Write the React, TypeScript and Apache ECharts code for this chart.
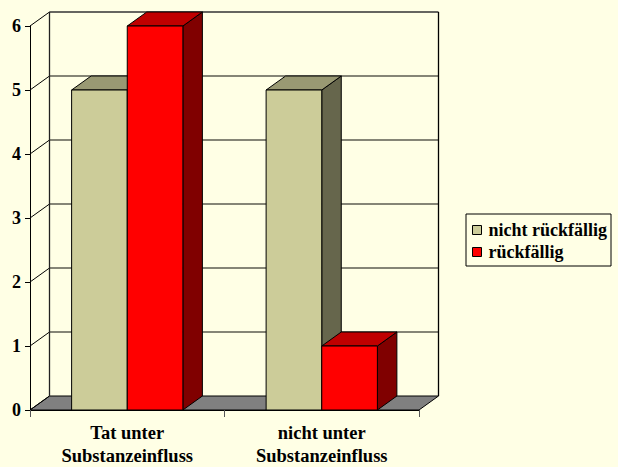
import React, { useEffect, useRef } from "react";
import * as echarts from "echarts";

const CATEGORIES = ["Tat unter\nSubstanzeinfluss", "nicht unter\nSubstanzeinfluss"];
const SERIES_NAMES = ["nicht rückfällig", "rückfällig"];
const NICHT_RUECKFAELLIG = [5, 5];
const RUECKFAELLIG = [6, 1];
const Y_TICKS = [0, 1, 2, 3, 4, 5, 6];

const FRONT = ["#CCCC99", "#FF0000"];
const TOP = ["#999973", "#C00000"];
const SIDE = ["#66664C", "#800000"];

const DX = 19.5;
const DY = -14;
const BAR_FRAC = 0.286;
const FONT = "'Liberation Serif', 'Times New Roman', serif";
const BG = "#FFFFE5";

export default function App() {
  const ref = useRef<HTMLDivElement>(null);
  useEffect(() => {
    if (!ref.current) return;
    const chart = echarts.init(ref.current, null, { renderer: "svg" });

    const wallRender = (params: any, api: any) => {
      const c0 = api.coord([0, 0]);
      const w = api.size([1, 0])[0];
      const x0 = c0[0] - w / 2;
      const x1 = x0 + w * CATEGORIES.length;
      const yBase = c0[1];
      const yTop = api.coord([0, Y_TICKS[Y_TICKS.length - 1]])[1];
      const children: any[] = [];
      children.push({
        type: "polygon",
        shape: { points: [[x0, yBase], [x1, yBase], [x1 + DX, yBase + DY], [x0 + DX, yBase + DY]] },
        style: { fill: "#808080", stroke: "#000", lineWidth: 1 },
      });
      Y_TICKS.forEach((t) => {
        const y = api.coord([0, t])[1];
        if (t > 0) {
          children.push({
            type: "line",
            shape: { x1: x0 + DX, y1: y + DY, x2: x1 + DX, y2: y + DY },
            style: { stroke: t === Y_TICKS[Y_TICKS.length - 1] ? "#333" : "#5c5c50", lineWidth: 1.5 },
          });
        }
        children.push({
          type: "line",
          shape: { x1: x0, y1: y, x2: x0 + DX, y2: y + DY },
          style: { stroke: "#000", lineWidth: 1 },
        });
      });
      children.push({
        type: "line",
        shape: { x1: x0 + DX, y1: yTop + DY, x2: x0 + DX, y2: yBase + DY },
        style: { stroke: "#222", lineWidth: 1.3 },
      });
      children.push({
        type: "line",
        shape: { x1: x1 + DX, y1: yTop + DY, x2: x1 + DX, y2: yBase + DY },
        style: { stroke: "#000", lineWidth: 1.3 },
      });
      return { type: "group", children };
    };

    const makeBarRender = (sIdx: number) => (params: any, api: any) => {
      const cat = api.value(0);
      const val = api.value(1);
      const top = api.coord([cat, val]);
      const base = api.coord([cat, 0]);
      const w = api.size([1, 0])[0];
      const bw = w * BAR_FRAC;
      const n = SERIES_NAMES.length;
      const x = top[0] - (bw * n) / 2 + sIdx * bw;
      const yt = top[1];
      const yb = base[1];
      const stroke = { stroke: "#000", lineWidth: 1 };
      return {
        type: "group",
        children: [
          {
            type: "polygon",
            shape: { points: [[x + bw, yt], [x + bw + DX, yt + DY], [x + bw + DX, yb + DY], [x + bw, yb]] },
            style: { fill: SIDE[sIdx], ...stroke },
          },
          {
            type: "polygon",
            shape: { points: [[x, yt], [x + bw, yt], [x + bw + DX, yt + DY], [x + DX, yt + DY]] },
            style: { fill: TOP[sIdx], ...stroke },
          },
          {
            type: "rect",
            shape: { x, y: yt, width: bw, height: yb - yt },
            style: { fill: FRONT[sIdx], ...stroke },
          },
        ],
      };
    };

    const seriesValues = [NICHT_RUECKFAELLIG, RUECKFAELLIG];

    chart.setOption({
      animation: false,
      backgroundColor: BG,
      grid: { left: 30, top: 26, width: 389, height: 385 },
      legend: {
        orient: "vertical",
        left: 466,
        top: 214,
        data: SERIES_NAMES,
        icon: "rect",
        itemWidth: 9,
        itemHeight: 9,
        itemGap: 4,
        padding: [7, 4, 5, 6],
        backgroundColor: BG,
        borderColor: "#000",
        borderWidth: 1,
        borderRadius: 0,
        itemStyle: { borderColor: "#000", borderWidth: 1 },
        textStyle: { fontFamily: FONT, fontWeight: "bold", fontSize: 18, color: "#000", padding: [0, 0, 0, 2] },
      },
      xAxis: {
        type: "category",
        data: CATEGORIES,
        boundaryGap: true,
        axisLine: { show: true, lineStyle: { color: "#000", width: 1 } },
        axisTick: { show: true, length: 7, lineStyle: { color: "#555" } },
        axisLabel: {
          fontFamily: FONT,
          fontWeight: "bold",
          fontSize: 18.5,
          lineHeight: 23,
          color: "#000",
          margin: 11,
          interval: 0,
        },
        splitLine: { show: false },
        z: 10,
      },
      yAxis: {
        type: "value",
        min: 0,
        max: 6,
        interval: 1,
        axisLine: { show: true, lineStyle: { color: "#000", width: 1 } },
        axisTick: { show: true, length: 5, lineStyle: { color: "#000" } },
        axisLabel: { fontFamily: FONT, fontWeight: "bold", fontSize: 18, color: "#000", margin: 9 },
        splitLine: { show: false },
        z: 10,
      },
      series: [
        {
          type: "custom",
          name: "wall",
          renderItem: wallRender,
          data: [[0, 0]],
          silent: true,
          z: 1,
        },
        ...SERIES_NAMES.map((name, i) => ({
          type: "custom",
          name,
          renderItem: makeBarRender(i),
          itemStyle: { color: FRONT[i], borderColor: "#000", borderWidth: 1 },
          data: seriesValues[i].map((v, j) => [j, v]),
          z: 2,
        })),
      ],
    });
    return () => chart.dispose();
  }, []);
  return (
    <div
      ref={ref}
      style={{ position: "fixed", left: 0, top: 0, width: 618, height: 467, background: BG }}
    />
  );
}
